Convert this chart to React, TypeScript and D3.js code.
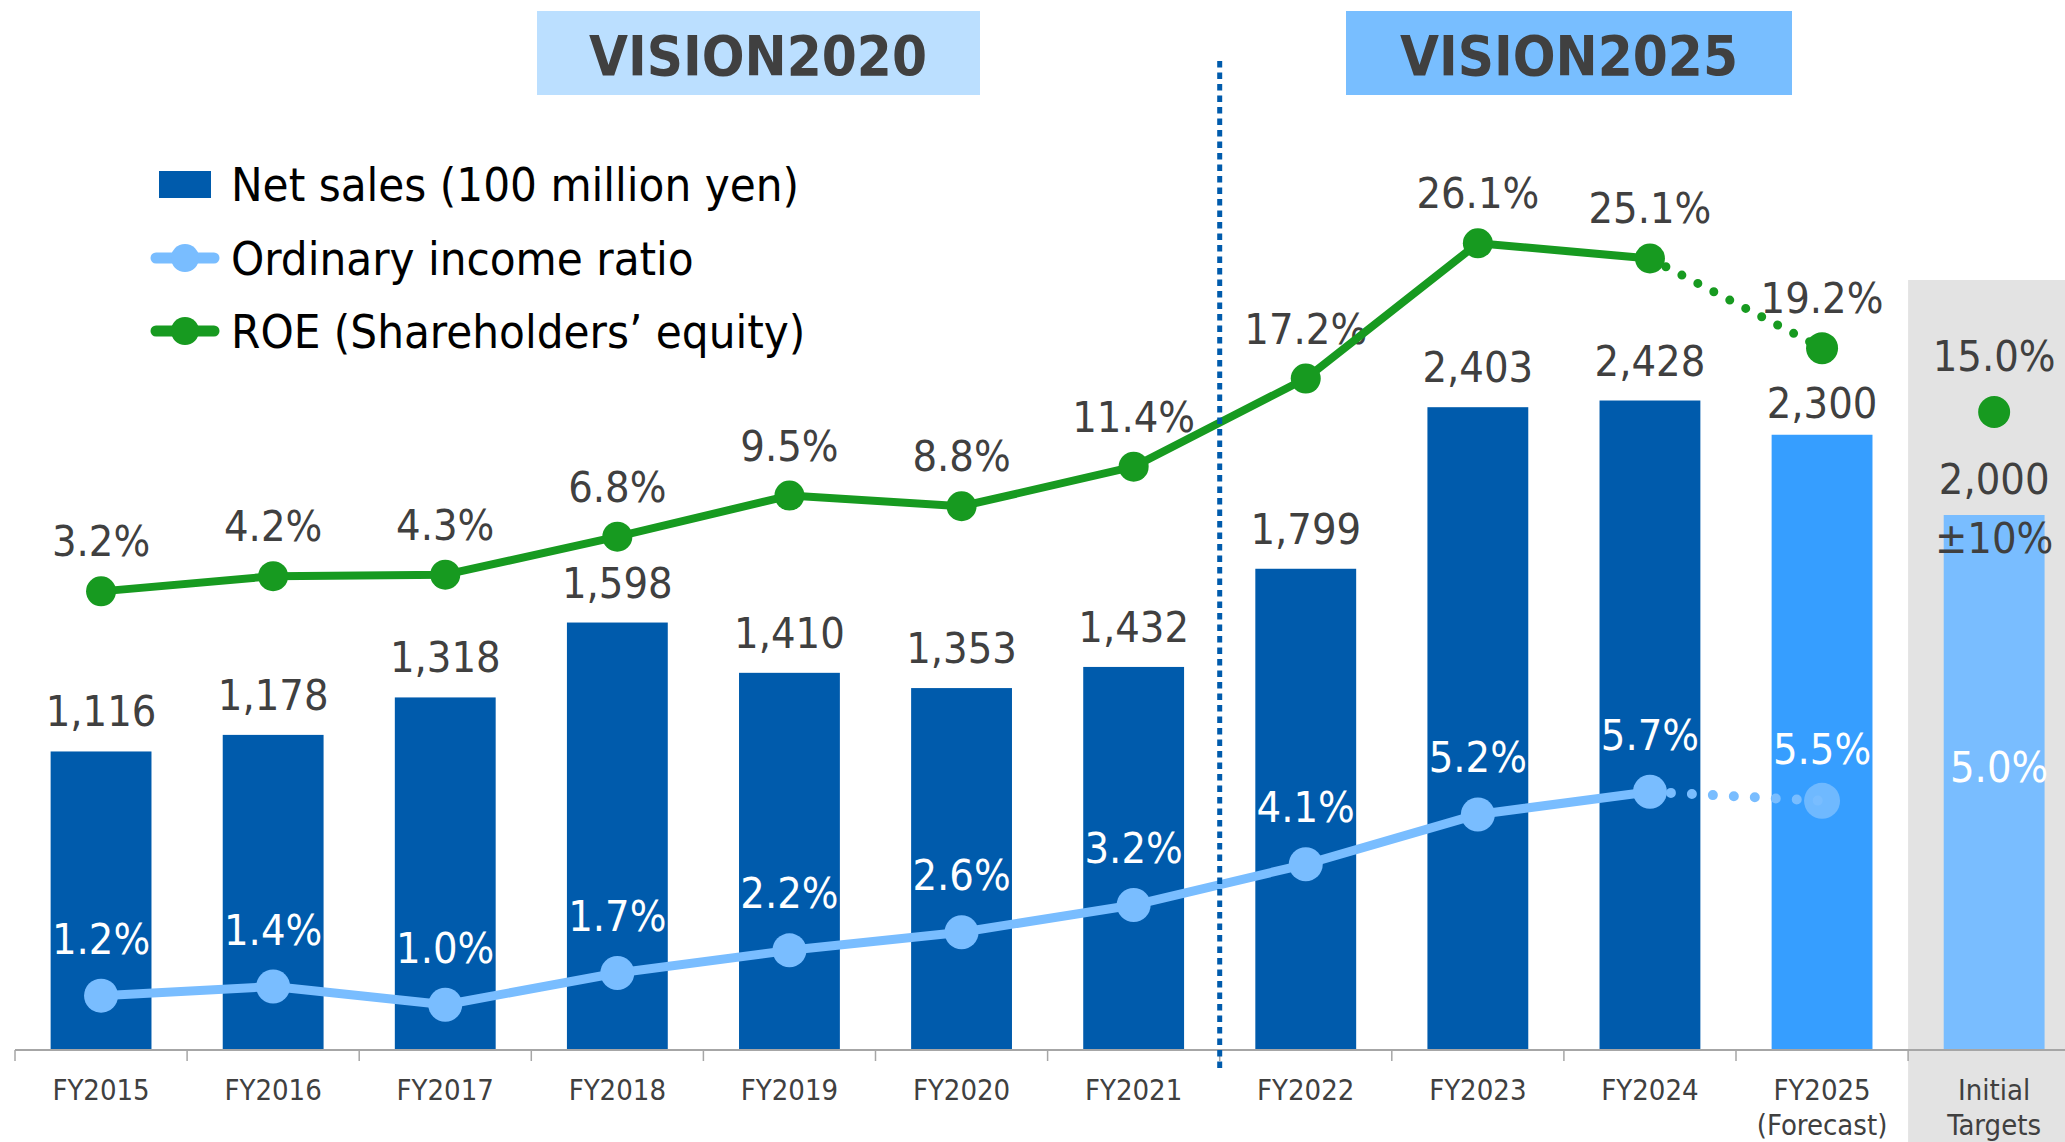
import * as d3 from "d3";

// chart values
const categories = [
  "FY2015", "FY2016", "FY2017", "FY2018", "FY2019", "FY2020",
  "FY2021", "FY2022", "FY2023", "FY2024", "FY2025", "Initial Targets",
];
const netSales = [1116, 1178, 1318, 1598, 1410, 1353, 1432, 1799, 2403, 2428, 2300, 2000];
const ordinaryRatio = [1.2, 1.4, 1.0, 1.7, 2.2, 2.6, 3.2, 4.1, 5.2, 5.7, 5.5, 5.0];
const roe = [3.2, 4.2, 4.3, 6.8, 9.5, 8.8, 11.4, 17.2, 26.1, 25.1, 19.2, 15.0];
const salesLabels = ["1,116", "1,178", "1,318", "1,598", "1,410", "1,353", "1,432", "1,799", "2,403", "2,428", "2,300", "2,000"];
const axisLabels = [
  ["FY2015"], ["FY2016"], ["FY2017"], ["FY2018"], ["FY2019"], ["FY2020"],
  ["FY2021"], ["FY2022"], ["FY2023"], ["FY2024"], ["FY2025", "(Forecast)"], ["Initial", "Targets"],
];
const legendItems = ["Net sales (100 million yen)", "Ordinary income ratio", "ROE (Shareholders\u2019 equity)"];

const W = 2065;
const H = 1142;
const FONT = "'DejaVu Sans Condensed', 'DejaVu Sans', sans-serif";
const DARK = "#404040";
const BLUE = "#005BAC";
const FORECAST = "#369EFF";
const LIGHT = "#79BDFF";
const GREEN = "#179A20";

export default function App() {
  const base = 1050;
  const step = 172.1;
  const x0 = 15;
  const x = d3
    .scaleBand()
    .domain(categories)
    .range([x0, x0 + step * categories.length])
    .paddingInner(0.414)
    .paddingOuter(0.207);
  const cx = (i: number) => (x(categories[i]) as number) + x.bandwidth() / 2;
  const ySales = d3.scaleLinear().domain([0, 3000]).range([base, base - 3000 * 0.2675]);
  const yRatio = d3.scaleLinear().domain([0, 10]).range([base, base - 453]);
  const yRoe = d3.scaleLinear().domain([0, 30]).range([640, 640 - 456]);

  const line = d3.line<number>();
  const roeSolid = line(roe.slice(0, 10).map((v, i) => [cx(i), yRoe(v)]) as any);
  const roeDot = line([[cx(9), yRoe(roe[9])], [cx(10), yRoe(roe[10])]] as any);
  const ratioSolid = line(ordinaryRatio.slice(0, 10).map((v, i) => [cx(i), yRatio(v)]) as any);
  const ratioDot = line([[cx(9), yRatio(ordinaryRatio[9])], [cx(10), yRatio(ordinaryRatio[10])]] as any);

  const barColor = (i: number) => (i === 11 ? LIGHT : i === 10 ? FORECAST : BLUE);
  const tickXs = d3.range(categories.length + 1).map((i) => x0 + i * x.step());
  const dividerX = tickXs[7];

  return (
    <svg
      width={W}
      height={H}
      style={{ position: "absolute", left: 0, top: 0, fontFamily: FONT, fontStretch: "condensed" }}
    >
      <rect width={W} height={H} fill="#fff" />
      {/* target column background */}
      <rect x={tickXs[11]} y={280} width={W - tickXs[11]} height={H - 280} fill="#E3E3E3" />

      {/* vision headers */}
      <rect x={537} y={11} width={443} height={84} fill="#BBDFFF" />
      <text x={758} y={75} textAnchor="middle" fontSize={56} fontWeight="bold" fill={DARK}>VISION2020</text>
      <rect x={1346} y={11} width={446} height={84} fill="#78BEFF" />
      <text x={1569} y={75} textAnchor="middle" fontSize={56} fontWeight="bold" fill={DARK}>VISION2025</text>

      {/* legend */}
      <g fontSize={47} fill="#000">
        <rect x={159} y={171} width={52} height={27} fill={BLUE} />
        <text x={231} y={201}>{legendItems[0]}</text>
        <line x1={156} x2={214} y1={258} y2={258} stroke={LIGHT} strokeWidth={11} strokeLinecap="round" />
        <circle cx={185} cy={258} r={14} fill={LIGHT} />
        <text x={231} y={275}>{legendItems[1]}</text>
        <line x1={156} x2={214} y1={331} y2={331} stroke={GREEN} strokeWidth={11} strokeLinecap="round" />
        <circle cx={185} cy={331} r={14} fill={GREEN} />
        <text x={231} y={348}>{legendItems[2]}</text>
      </g>

      {/* bars */}
      {netSales.map((v, i) => (
        <rect
          key={categories[i]}
          x={x(categories[i])}
          y={ySales(v)}
          width={x.bandwidth()}
          height={base - ySales(v)}
          fill={barColor(i)}
        />
      ))}

      {/* axis */}
      <line x1={x0} x2={W} y1={base} y2={base} stroke="#A6A6A6" strokeWidth={2} />
      {tickXs.map((t) => (
        <line key={t} x1={t} x2={t} y1={base} y2={base + 11} stroke="#A6A6A6" strokeWidth={1.5} />
      ))}
      <g fontSize={29} fill={DARK} textAnchor="middle">
        {axisLabels.map((lines, i) => (
          <text key={i} x={cx(i)} y={1100}>
            {lines.map((l, j) => (
              <tspan key={j} x={cx(i)} dy={j === 0 ? 0 : 35}>{l}</tspan>
            ))}
          </text>
        ))}
      </g>

      {/* sales labels */}
      <g fontSize={43} fill={DARK} textAnchor="middle">
        {netSales.map((v, i) => (
          <text key={i} x={cx(i)} y={ySales(v) - (i === 11 ? 21 : i === 10 ? 17 : 25)}>{salesLabels[i]}</text>
        ))}
        <text x={cx(11)} y={553}>±10%</text>
      </g>

      {/* ROE labels */}
      <g fontSize={43} fill={DARK} textAnchor="middle">
        {roe.map((v, i) => (
          <text key={i} x={cx(i)} y={yRoe(v) - (i === 11 ? 41 : 35)}>{v.toFixed(1)}%</text>
        ))}
      </g>

      {/* ordinary income ratio labels */}
      <g fontSize={43} fill="#fff" textAnchor="middle">
        {ordinaryRatio.map((v, i) => (
          <text key={i} x={cx(i) + (i === 11 ? 5 : 0)} y={yRatio(v) - (i === 10 ? 37 : 42)}>{v.toFixed(1)}%</text>
        ))}
      </g>

      {/* lines */}
      <path d={ratioSolid as string} fill="none" stroke={LIGHT} strokeWidth={9} strokeLinejoin="round" />
      <path d={ratioDot as string} fill="none" stroke={LIGHT} strokeWidth={10} strokeLinecap="round" strokeDasharray="0 21" />
      {ordinaryRatio.slice(0, 11).map((v, i) => (
        <circle key={i} cx={cx(i)} cy={yRatio(v)} r={i === 10 ? 18 : 17} fill={LIGHT} opacity={i === 10 ? 0.85 : 1} />
      ))}
      <path d={roeSolid as string} fill="none" stroke={GREEN} strokeWidth={8} strokeLinejoin="round" />
      <path d={roeDot as string} fill="none" stroke={GREEN} strokeWidth={9} strokeLinecap="round" strokeDasharray="0 18" />
      {roe.map((v, i) => (
        <circle key={i} cx={cx(i)} cy={yRoe(v)} r={i >= 10 ? 16 : 15} fill={GREEN} />
      ))}

      {/* VISION divider */}
      <line x1={dividerX} x2={dividerX} y1={61} y2={1072} stroke={BLUE} strokeWidth={5} strokeDasharray="6.5 5" />
    </svg>
  );
}
